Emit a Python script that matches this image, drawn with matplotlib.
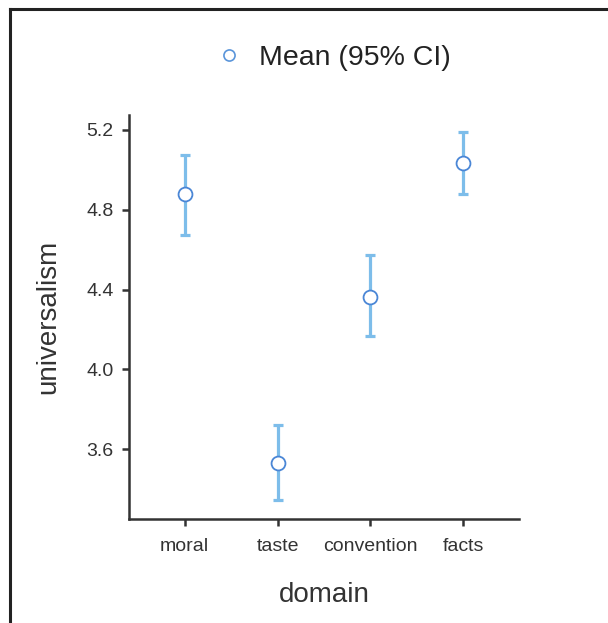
import matplotlib
matplotlib.use("Agg")
import matplotlib.pyplot as plt
from matplotlib.lines import Line2D
import numpy as np

plt.rcParams['font.family'] = ['Liberation Sans', 'DejaVu Sans']

categories = ["moral", "taste", "convention", "facts"]
means = [4.88, 3.53, 4.365, 5.035]
ci_low = [4.675, 3.345, 4.165, 4.88]
ci_high = [5.075, 3.72, 4.575, 5.19]
yticks = [3.6, 4.0, 4.4, 4.8, 5.2]

fig = plt.figure(figsize=(6.08, 6.23), dpi=100)
ax = fig.add_axes([129/608, 1-519/623, (519-129)/608, (519-115)/623])

x = np.arange(len(categories))
m = np.array(means)
yerr = [m - np.array(ci_low), np.array(ci_high) - m]
ax.errorbar(x, m, yerr=yerr, fmt='none', ecolor='#7DBDEA', elinewidth=2.3,
            capsize=3.5, capthick=2.3, zorder=2)
ax.plot(x, m, 'o', ms=10, mfc='white', mec='#4A86D6', mew=1.3, zorder=3)

ax.set_xlim(-0.6, 3.6)
ax.set_ylim(3.25, 5.275)
ax.set_xticks(x)
ax.set_xticklabels(categories)
ax.set_yticks(yticks)
ax.set_yticklabels([f"{v:.1f}" for v in yticks])
for s in ['top', 'right']:
    ax.spines[s].set_visible(False)
for s in ['left', 'bottom']:
    ax.spines[s].set_linewidth(1.8)
    ax.spines[s].set_color('#333333')
ax.tick_params(axis='both', length=5, width=1.8, color='#333333', labelsize=14,
               labelcolor='#333333', pad=6)
ax.tick_params(axis='x', pad=9)
ax.set_xlabel('domain', fontsize=20, color='#333333', labelpad=19)
ax.set_ylabel('universalism', fontsize=20, color='#333333', labelpad=18)

handle = Line2D([], [], marker='o', ls='none', ms=8, mfc='white', mec='#5A95DA', mew=1.2)
fig.legend([handle], ['Mean (95% CI)'], loc='center', bbox_to_anchor=(0.545, 0.907),
           frameon=False, fontsize=20.5, handlelength=1.2, handletextpad=0.45,
           labelcolor='#222222')

fig.add_artist(Line2D([10/608, 1.0], [1-9/623, 1-9/623], color='#222222', lw=2.2))
fig.add_artist(Line2D([10/608, 10/608], [0, 1-9/623], color='#222222', lw=2.2))

fig.savefig('out.png', dpi=100)
